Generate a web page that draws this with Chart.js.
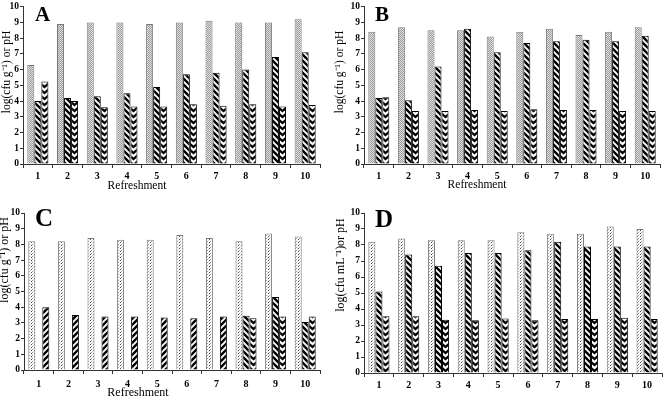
<!DOCTYPE html>
<html>
<head>
<meta charset="utf-8">
<script src="https://cdn.jsdelivr.net/npm/chart.js@4/dist/chart.umd.min.js"></script>
<style>
html, body { margin: 0; padding: 0; background: #fff; }
body { width: 664px; height: 401px; position: relative; overflow: hidden; }
.panel { position: absolute; }
</style>
</head>
<body>
<div class="panel" style="left:0;top:0"><canvas id="chartA" width="332" height="200"></canvas></div>
<div class="panel" style="left:332px;top:0"><canvas id="chartB" width="332" height="200"></canvas></div>
<div class="panel" style="left:0;top:200px"><canvas id="chartC" width="332" height="201"></canvas></div>
<div class="panel" style="left:332px;top:200px"><canvas id="chartD" width="332" height="201"></canvas></div>
<script>
const refreshments = ['1', '2', '3', '4', '5', '6', '7', '8', '9', '10'];

const aSeries1 = [6.3, 8.9, 9.0, 9.0, 8.9, 9.0, 9.1, 9.0, 9.0, 9.2];
const aSeries2 = [4.0, 4.2, 4.3, 4.5, 4.9, 5.7, 5.8, 6.0, 6.8, 7.1];
const aSeries3 = [5.25, 4.0, 3.6, 3.65, 3.65, 3.8, 3.7, 3.8, 3.65, 3.75];

const bSeries1 = [8.4, 8.7, 8.5, 8.5, 8.1, 8.4, 8.6, 8.2, 8.4, 8.7];
const bSeries2 = [4.2, 4.05, 6.2, 8.6, 7.1, 7.7, 7.8, 7.9, 7.8, 8.15];
const bSeries3 = [4.25, 3.37, 3.37, 3.43, 3.37, 3.48, 3.43, 3.43, 3.37, 3.37];

const cSeries1 = [8.2, 8.2, 8.4, 8.3, 8.3, 8.6, 8.4, 8.2, 8.7, 8.5];
const cSeries2 = [null, null, null, null, null, null, null, 3.45, 4.65, 3.05];
const cSeries3 = [4.0, 3.5, 3.4, 3.4, 3.35, 3.3, 3.4, 3.3, 3.4, 3.4];

const dSeries1 = [8.2, 8.4, 8.3, 8.3, 8.3, 8.8, 8.7, 8.7, 9.15, 9.0];
const dSeries2 = [5.1, 7.4, 6.7, 7.5, 7.5, 7.67, 8.2, 7.9, 7.9, 7.9];
const dSeries3 = [3.55, 3.55, 3.33, 3.3, 3.4, 3.3, 3.37, 3.37, 3.45, 3.37];

const catPct = 0.71;

// small tiles used as bar fills
function tile(w, h, draw) {
    const c = document.createElement('canvas');
    c.width = w;
    c.height = h;
    const g = c.getContext('2d');
    g.fillStyle = '#fff';
    g.fillRect(0, 0, w, h);
    draw(g, w, h);
    return c;
}

const tiles = {
    grayDots: tile(2, 2, g => {
        g.fillStyle = '#e2e2e2';
        g.fillRect(0, 0, 2, 2);
        g.fillStyle = '#999';
        g.fillRect(0, 0, 1, 1);
        g.fillRect(1, 1, 1, 1);
    }),
    sparseDots: tile(3, 3, g => {
        g.fillStyle = '#444';
        g.fillRect(0, 0, 1, 1);
        g.fillStyle = '#999';
        g.fillRect(1, 2, 1, 1);
        g.fillStyle = '#ddd';
        g.fillRect(2, 1, 1, 1);
    }),
    back: tile(6, 6, g => {
        g.strokeStyle = '#000';
        g.lineWidth = 2.4;
        g.beginPath();
        g.moveTo(-1, -1); g.lineTo(7, 7);
        g.moveTo(-1, 5); g.lineTo(1, 7);
        g.moveTo(5, -1); g.lineTo(7, 1);
        g.stroke();
    }),
    fwd: tile(6, 6, g => {
        g.strokeStyle = '#000';
        g.lineWidth = 2.4;
        g.beginPath();
        g.moveTo(-1, 7); g.lineTo(7, -1);
        g.moveTo(-1, 1); g.lineTo(1, -1);
        g.moveTo(5, 7); g.lineTo(7, 5);
        g.stroke();
    }),
    chevron: tile(7, 6, g => {
        g.strokeStyle = '#000';
        g.lineWidth = 2.3;
        g.beginPath();
        for (const dy of [-6, 0, 6]) {
            g.moveTo(-1, dy - 1);
            g.lineTo(3.5, dy + 3);
            g.lineTo(8, dy - 1);
        }
        g.stroke();
    })
};

function fillFor(kind) {
    return ctx => {
        const chart = ctx.chart;
        const k = Array.isArray(kind) ? kind[ctx.dataIndex] || kind[0] : kind;
        const pat = chart.ctx.createPattern(tiles[k], 'repeat');
        const xs = chart.scales.x;
        if (ctx.type === 'data' && xs) {
            const center = xs.getPixelForValue(ctx.dataIndex);
            const group = xs.width / refreshments.length * catPct;
            const left = center - group / 2 + ctx.datasetIndex * group / 3;
            pat.setTransform(new DOMMatrix([1, 0, 0, 1, Math.round(left), 0]));
        }
        return pat;
    };
}

const panelText = {
    id: 'panelText',
    afterDraw(chart, args, o) {
        const g = chart.ctx;
        g.save();
        g.fillStyle = '#000';
        g.textAlign = 'left';
        g.textBaseline = 'alphabetic';
        g.font = 'bold ' + o.letterSize + 'px "Liberation Serif"';
        g.fillText(o.letter, o.letterX, o.letterY);

        g.textAlign = 'center';
        g.textBaseline = 'middle';
        g.font = o.titleSize + 'px "Liberation Serif"';
        g.fillText('Refreshment', o.xTitleX, o.xTitleY);

        g.translate(o.yTitleX, o.yTitleY);
        g.rotate(-Math.PI / 2);
        g.fillText(o.yTitle, 0, 0);
        g.restore();
    }
};

function createChart(id, series, fills, text, box) {

    return new Chart(
        document.getElementById(id),
        {
            type: 'bar',

            data: {
                labels: refreshments,
                datasets: series.map((values, i) => ({
                    data: values,
                    backgroundColor: fillFor(fills[i]),
                    borderColor: i === 0 ? '#7a7a7a' : '#000',
                    borderWidth: 1,
                    categoryPercentage: catPct,
                    barPercentage: 1.0
                }))
            },

            options: {
                responsive: false,
                animation: false,
                layout: {
                    padding: { top: box.top, right: box.right, left: 0, bottom: 0 }
                },
                plugins: {
                    legend: { display: false },
                    tooltip: { enabled: false },
                    panelText: text
                },
                scales: {
                    x: {
                        grid: {
                            drawOnChartArea: false,
                            tickLength: 4,
                            color: '#333'
                        },
                        border: { color: '#333', width: 1 },
                        ticks: {
                            padding: box.xPad,
                            color: '#000',
                            font: { family: 'Liberation Serif', weight: 'bold', size: 10 }
                        },
                        afterFit: s => { s.height = box.xHeight; }
                    },
                    y: {
                        min: 0,
                        max: 10,
                        grid: {
                            drawOnChartArea: false,
                            tickLength: 3,
                            color: '#333'
                        },
                        border: { color: '#333', width: 1 },
                        ticks: {
                            stepSize: 1,
                            padding: 1,
                            color: '#000',
                            font: { family: 'Liberation Serif', weight: 'bold', size: 9.5 }
                        },
                        afterFit: s => { s.width = box.yWidth; }
                    }
                }
            },

            plugins: [panelText]
        }
    );
}

const chartA = createChart(
    'chartA',
    [aSeries1, aSeries2, aSeries3],
    ['grayDots', 'back', 'chevron'],
    { letter: 'A', letterSize: 21, letterX: 35, letterY: 21,
      titleSize: 11.5, xTitleX: 137, xTitleY: 186,
      yTitle: 'log(cfu g\u207B\u00B9) or pH', yTitleX: 7, yTitleY: 72 },
    { top: 4, right: 12, yWidth: 23, xHeight: 36, xPad: 2 }
);

const chartB = createChart(
    'chartB',
    [bSeries1, bSeries2, bSeries3],
    ['grayDots', 'back', 'chevron'],
    { letter: 'B', letterSize: 21, letterX: 43, letterY: 21,
      titleSize: 11.5, xTitleX: 145, xTitleY: 185,
      yTitle: 'log(cfu g\u207B\u00B9) or pH', yTitleX: 8, yTitleY: 72 },
    { top: 4, right: 4, yWidth: 32, xHeight: 36, xPad: 2 }
);

const chartC = createChart(
    'chartC',
    [cSeries1, cSeries2, cSeries3],
    ['sparseDots', 'back', ['fwd', 'fwd', 'fwd', 'fwd', 'fwd', 'fwd', 'fwd', 'chevron', 'chevron', 'chevron']],
    { letter: 'C', letterSize: 25, letterX: 35, letterY: 26,
      titleSize: 12, xTitleX: 138, xTitleY: 193,
      yTitle: 'log(cfu g\u207B\u00B9) or pH', yTitleX: 5, yTitleY: 60 },
    { top: 13, right: 12, yWidth: 24, xHeight: 31, xPad: 4 }
);

const chartD = createChart(
    'chartD',
    [dSeries1, dSeries2, dSeries3],
    ['sparseDots', 'back', 'chevron'],
    { letter: 'D', letterSize: 25, letterX: 43, letterY: 27,
      titleSize: 12, xTitleX: 147, xTitleY: 396,
      yTitle: 'log(cfu mL\u207B\u00B9)or pH', yTitleX: 9, yTitleY: 65 },
    { top: 13, right: 2, yWidth: 32, xHeight: 28, xPad: 2 }
);
</script>
</body>
</html>
